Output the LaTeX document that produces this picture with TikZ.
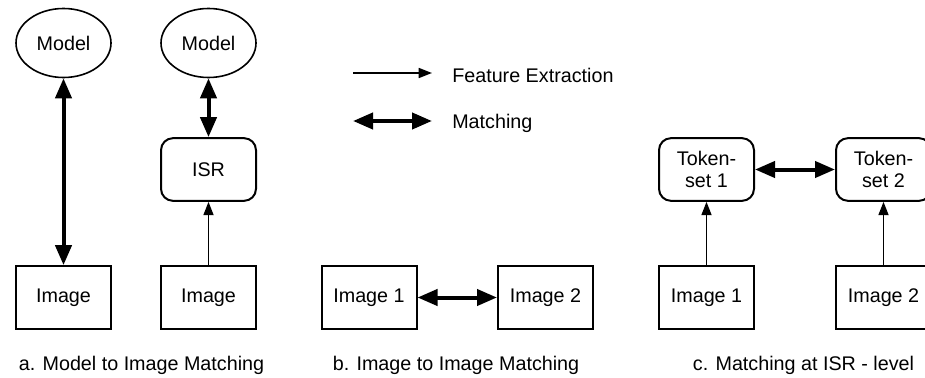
\documentclass[tikz,border=0pt]{standalone}
\usepackage{fontspec}
\setmainfont{Liberation Sans}
\usepackage{tikz}
\usetikzlibrary{arrows.meta,shapes.geometric}

\begin{document}
\begin{tikzpicture}[x=0.75pt, y=-0.75pt,
    every node/.style={font=\fontsize{14.8}{16.5}\selectfont},
    imgbox/.style={draw, line width=1.5pt, minimum width=71.25pt, minimum height=47pt, inner sep=0pt},
    isrbox/.style={imgbox, rounded corners=9pt, align=center},
    modelnode/.style={draw, ellipse, line width=1.2pt, minimum width=71.25pt, minimum height=51.75pt, inner sep=0pt},
    extract/.style={line width=1.3pt, -{Triangle[length=10pt, width=7.5pt]}},
    match/.style={line width=3pt, {Triangle[length=15pt, width=12pt]}-{Triangle[length=15pt, width=12pt]}}]
          \useasboundingbox (0, 0) rectangle (925, 378);

          \node[modelnode] (modelA) at (63.5, 43) {Model};
          \node[imgbox] (imageA) at (63.5, 297.5) {Image};
          \draw[match] (modelA) -- (imageA);

          \node[modelnode] (modelB) at (208.5, 43) {Model};
          \node[isrbox] (isrB) at (208.5, 169.5) {ISR};
          \node[imgbox] (imageB) at (208.5, 297.5) {Image};
          \draw[match] (modelB) -- (isrB);
          \draw[extract] (imageB) -- (isrB);

          \node[anchor=base] (capA) at (141.5, 370) {a. Model to Image Matching};

          \coordinate (legA1) at (353, 73);
          \coordinate (legA2) at (432, 73);
          \coordinate (legB1) at (353, 121);
          \coordinate (legB2) at (432, 121);
          \draw[extract] (legA1) -- (legA2);
          \draw[match] (legB1) -- (legB2);
          \node[anchor=west, inner sep=0pt] (legExtract) at (452, 75) {Feature Extraction};
          \node[anchor=west, inner sep=0pt] (legMatch) at (452, 123.5) {Matching};

          \node[imgbox] (imageB1) at (369, 297.5) {Image 1};
          \node[imgbox] (imageB2) at (545.5, 297.5) {Image 2};
          \draw[match] (imageB1) -- (imageB2);

          \node[anchor=base] (capB) at (456, 370) {b. Image to Image Matching};

          \node[isrbox] (tokenC1) at (706.5, 169.5) {Token-\\set 1};
          \node[isrbox] (tokenC2) at (883.5, 169.5) {Token-\\set 2};
          \node[imgbox] (imageC1) at (706.5, 297.5) {Image 1};
          \node[imgbox] (imageC2) at (883.5, 297.5) {Image 2};
          \draw[match] (tokenC1) -- (tokenC2);
          \draw[extract] (imageC1) -- (tokenC1);
          \draw[extract] (imageC2) -- (tokenC2);

          \node[anchor=base] (capC) at (803.5, 370) {c. Matching at ISR - level};
        \end{tikzpicture}
\end{document}
